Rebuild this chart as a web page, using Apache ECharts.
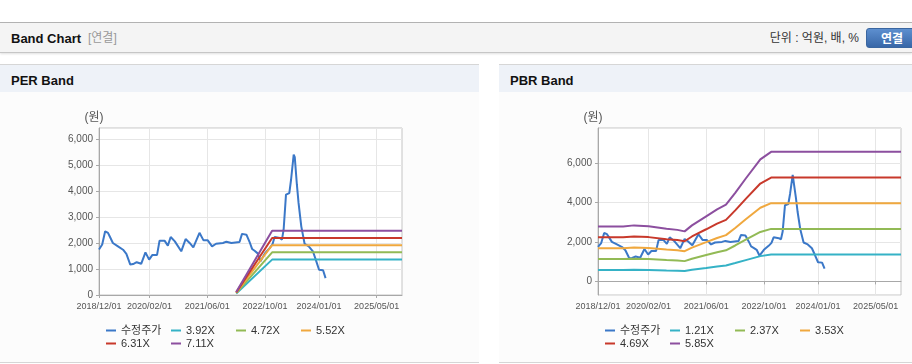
<!DOCTYPE html>
<html><head><meta charset="utf-8">
<script src="https://cdn.jsdelivr.net/npm/echarts@6/dist/echarts.min.js"></script>
<style>
html,body{margin:0;padding:0;width:912px;height:364px;overflow:hidden;background:#fff;font-family:"Liberation Sans","Noto Sans CJK KR",sans-serif;}
.abs{position:absolute;}
#topline{left:0;top:22px;width:912px;height:1px;background:#b4b4b4;}
#hdr{left:0;top:23px;width:912px;height:29px;background:#f4f4f4;border-bottom:1px solid #c6c6c6;box-shadow:0 1px 2px rgba(0,0,0,0.12);}
#hdrTitle{left:11px;top:1px;line-height:29px;font-size:13px;font-weight:bold;color:#111;}
#hdrSub{left:88px;top:1px;line-height:29px;font-size:12px;color:#999;}
#unit{right:53px;top:1px;line-height:29px;font-size:12px;color:#333;}
#btn{left:866px;top:5px;width:52px;height:20px;line-height:20px;border-radius:3px;background:linear-gradient(#5d8fcf,#3867a8);border:1px solid #3a66a0;box-sizing:border-box;color:#fff;font-weight:bold;font-size:12px;text-align:center;}
.panel{top:64px;height:299px;border-top:1px solid #d6d6d6;border-bottom:1px solid #d6d6d6;background:#fcfcfc;box-sizing:border-box;}
.ph{left:0;top:0;right:0;height:27px;background:#eef2f8;}
.pt{left:11px;top:2px;line-height:27px;font-size:13px;font-weight:bold;color:#111;}
.chart{position:absolute;top:92px;height:270px;}
</style></head><body>
<div id="topline" class="abs"></div>
<div id="hdr" class="abs">
  <div id="hdrTitle" class="abs">Band Chart</div>
  <div id="hdrSub" class="abs">[연결]</div>
  <div id="unit" class="abs">단위 : 억원, 배, %</div>
  <div id="btn" class="abs">연결</div>
</div>
<div class="panel abs" style="left:0;width:479px;"><div class="ph abs"><div class="pt abs">PER Band</div></div></div>
<div class="panel abs" style="left:499px;width:480px;"><div class="ph abs"><div class="pt abs">PBR Band</div></div></div>
<div id="perChart" class="chart" style="left:0;width:479px;"></div>
<div id="pbrChart" class="chart" style="left:499px;width:413px;"></div>
<script>
// ---- data ----
const xTickDates = ['2018-12-01','2020-02-01','2021-06-01','2022-10-01','2024-01-01','2025-05-01'];
const xMin = '2018-12-01';
const xMax = '2025-12-01';

const priceDates = ['2018-12-01','2018-12-28','2019-01-22','2019-02-15','2019-03-04','2019-03-28','2019-05-10','2019-06-22','2019-07-20','2019-08-22','2019-09-15','2019-10-15','2019-11-22','2019-12-28','2020-01-28','2020-02-25','2020-04-04','2020-04-25','2020-06-06','2020-07-04','2020-07-28','2020-09-01','2020-10-25','2020-12-01','2021-01-04','2021-02-04','2021-03-28','2021-05-01','2021-06-06','2021-07-12','2021-08-15','2021-10-12','2021-11-10','2021-12-22','2022-03-01','2022-03-22','2022-04-28','2022-05-28','2022-06-15','2022-07-06','2022-08-01','2022-08-25','2022-10-01','2022-11-10','2022-12-04','2022-12-22','2023-02-04','2023-02-22','2023-03-08','2023-03-28','2023-04-25','2023-05-10','2023-06-01','2023-06-10','2023-06-28','2023-07-12','2023-08-04','2023-09-01','2023-10-06','2023-11-10','2023-12-04','2024-01-01','2024-02-04','2024-02-25'];
const priceValues = [1750,1940,2450,2390,2230,2000,1870,1740,1580,1170,1190,1260,1200,1640,1360,1540,1540,2090,2090,1900,2230,2060,1680,2150,2000,1830,2390,2100,2100,1870,1970,2000,2050,2000,2040,2350,2320,2000,1770,1700,1600,1300,1600,1800,1950,2230,2190,2130,2510,3860,3920,4440,5400,5300,4240,3540,2640,1970,1870,1680,1360,970,950,650];

const perNames = ['3.92X','4.72X','5.52X','6.31X','7.11X'];
const perDates = ['2022-02-01','2022-12-01','2025-12-01'];
const per392 = [60,1360,1360];
const per472 = [75,1640,1640];
const per552 = [90,1915,1915];
const per631 = [100,2190,2190];
const per711 = [115,2470,2470];

const pbrNames = ['1.21X','2.37X','3.53X','4.69X','5.85X'];
const pbrDates = ['2018-12-01','2019-07-01','2019-10-01','2020-02-01','2020-07-01','2020-10-01','2020-12-01','2021-02-01','2021-06-01','2021-09-01','2021-11-15','2022-02-01','2022-05-01','2022-09-01','2022-12-01','2025-12-01'];
const pbr121 = [576,576,587,578,552,540,524,587,681,754,803,928,1078,1279,1358,1358];
const pbr237 = [1128,1128,1149,1133,1081,1057,1026,1149,1334,1477,1574,1818,2112,2505,2659,2659];
const pbr353 = [1680,1680,1712,1687,1610,1574,1528,1712,1987,2199,2344,2708,3145,3731,3961,3961];
const pbr469 = [2232,2232,2275,2242,2139,2092,2031,2275,2640,2922,3114,3597,4179,4957,5262,5262];
const pbr585 = [2785,2785,2837,2796,2668,2609,2533,2837,3294,3645,3884,4487,5212,6183,6564,6564];

const priceName = '수정주가';
const colors = ['#3b78c8','#35b2c6','#92ba55','#f0a83e','#c8392b','#8c4f9f'];
const FONT = '"Liberation Sans","Noto Sans CJK KR",sans-serif';

function ts(s){ const p = s.split('-').map(Number); return Date.UTC(p[0], p[1]-1, p[2]); }
function pairs(d, v){ return d.map((x,i)=>[ts(x), v[i]]); }
function fmtDate(v){
  const d = new Date(v);
  const p = n => (n<10?'0':'')+n;
  return d.getUTCFullYear()+'/'+p(d.getUTCMonth()+1)+'/'+p(d.getUTCDate());
}
function fmtNum(v){ return Math.round(v).toString().replace(/\B(?=(\d{3})+(?!\d))/g, ','); }

function makeOption(bandNames, bandDates, bands, yAxisCfg){
  const series = [{
    name: priceName, type:'line', data: pairs(priceDates, priceValues),
    showSymbol:false, symbol:'none', lineStyle:{width:2, color:colors[0]}, itemStyle:{color:colors[0]}
  }];
  bands.forEach((b,i)=>{
    series.push({name: bandNames[i], type:'line', data: pairs(bandDates, b),
      showSymbol:false, symbol:'none', lineStyle:{width:2, color:colors[i+1]}, itemStyle:{color:colors[i+1]}});
  });
  const xTicks = xTickDates.map(ts);
  return {
    animation:false,
    textStyle:{fontFamily:FONT},
    grid:{left:99, top:36, width:303, height:167, show:true, borderColor:'#c4c4c4', borderWidth:1, backgroundColor:'#fff'},
    legend:{
      left:106, top:232, width:262, itemGap:0, itemWidth:10, itemHeight:2, icon:'rect',
      padding:0,
      textStyle:{fontSize:11, color:'#333', width:50, height:13, lineHeight:13, fontFamily:FONT},
      data:[priceName].concat(bandNames)
    },
    xAxis:{
      type:'value', min:ts(xMin), max:ts(xMax),
      axisLine:{lineStyle:{color:'#a8a8a8'}},
      axisTick:{show:true, length:3, lineStyle:{color:'#a8a8a8'}, customValues:xTicks},
      axisLabel:{fontSize:9, color:'#555', margin:7, customValues:xTicks, formatter:fmtDate, hideOverlap:false},
      splitLine:{show:true, lineStyle:{color:'#e6e6e6'}}
    },
    yAxis: Object.assign({
      type:'value',
      name:'(원)', nameLocation:'end', nameGap:4,
      nameTextStyle:{fontSize:12, color:'#555', padding:[0,10,0,0]},
      axisLine:{show:true, lineStyle:{color:'#a8a8a8'}},
      axisTick:{show:true, length:3, lineStyle:{color:'#a8a8a8'}},
      axisLabel:{fontSize:10, color:'#555', margin:6, formatter:fmtNum, showMaxLabel:false},
      splitLine:{show:true, lineStyle:{color:'#e6e6e6'}}
    }, yAxisCfg),
    series: series
  };
}

const perChart = echarts.init(document.getElementById('perChart'), null, {renderer:'canvas'});
perChart.setOption(makeOption(perNames, perDates, [per392,per472,per552,per631,per711], {min:0, max:6420, interval:1000}));

const pbrChart = echarts.init(document.getElementById('pbrChart'), null, {renderer:'canvas'});
const pbrOpt = makeOption(pbrNames, pbrDates, [pbr121,pbr237,pbr353,pbr469,pbr585], {min:-690, max:7770});
pbrOpt.yAxis.axisLabel.showMinLabel = false;
pbrChart.setOption(pbrOpt);
</script>
</body></html>
